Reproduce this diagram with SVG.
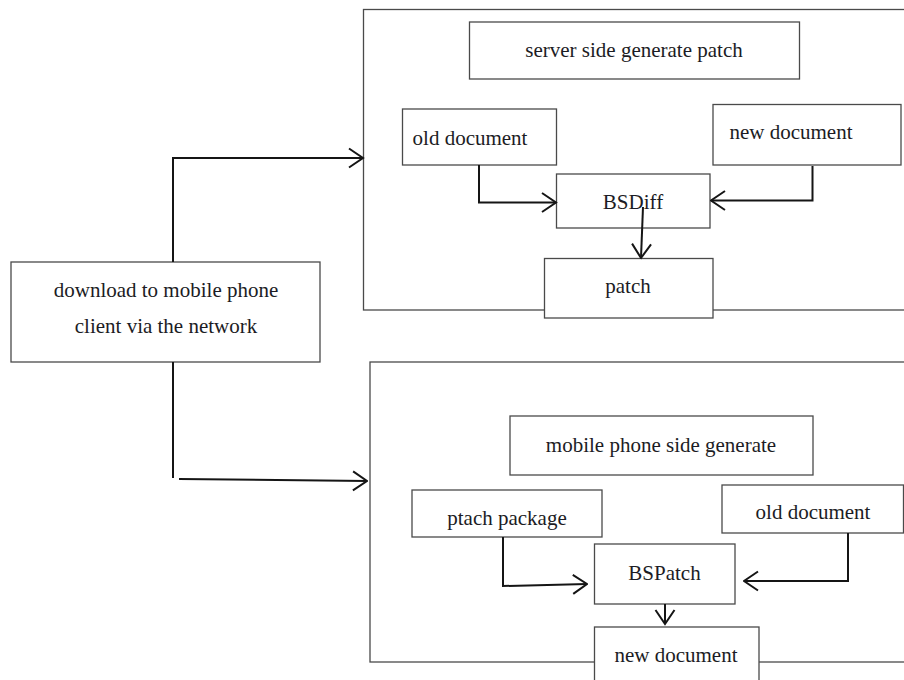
<svg xmlns="http://www.w3.org/2000/svg" width="904" height="680" viewBox="0 0 904 680">
  <style>
    .box { fill: #ffffff; stroke: #4a4a4a; stroke-width: 1.3; }
    .frame { fill: #ffffff; stroke: #4a4a4a; stroke-width: 1.3; }
    text { font-family: 'Liberation Serif', 'Times New Roman', 'DejaVu Serif', serif; font-size: 21px; fill: #1c1c24; text-anchor: middle; }
    .wire { fill: none; stroke: #151515; stroke-width: 2; }
  </style>
  <defs>
    <marker id="chev" viewBox="0 0 17 22" refX="15.5" refY="11" markerWidth="17" markerHeight="22" markerUnits="userSpaceOnUse" orient="auto">
      <path d="M1.5,1.5 L15.5,11 L1.5,20.5" fill="none" stroke="#151515" stroke-width="2"/>
    </marker>
  </defs>
  <rect width="904" height="680" fill="#ffffff"/>

  <!-- server side frame -->
  <g id="server-frame">
    <rect class="frame" x="363.5" y="9.5" width="560" height="300.5"/>
  </g>
  <!-- mobile side frame -->
  <g id="mobile-frame">
    <rect class="frame" x="370" y="362" width="560" height="300"/>
  </g>

  <g font-family="Liberation Serif, Times New Roman, serif">
    <g id="download">
      <rect class="box" x="11" y="262" width="309" height="100"/>
      <text x="166" y="297">download to mobile phone</text>
      <text x="166" y="333">client via the network</text>
    </g>

    <g id="server-title">
      <rect class="box" x="469.5" y="22" width="330" height="57"/>
      <text x="634" y="57">server side generate patch</text>
    </g>
    <g id="server-old">
      <rect class="box" x="402.5" y="109" width="154" height="56"/>
      <text x="470" y="145">old document</text>
    </g>
    <g id="server-new">
      <rect class="box" x="713" y="104.5" width="188" height="60.5"/>
      <text x="791" y="139">new document</text>
    </g>
    <g id="bsdiff">
      <rect class="box" x="556.5" y="174" width="153.5" height="54"/>
      <text x="633" y="209">BSDiff</text>
    </g>
    <g id="patch">
      <rect class="box" x="544.5" y="258.5" width="168.5" height="59.5"/>
      <text x="628" y="293">patch</text>
    </g>

    <g id="mobile-title">
      <rect class="box" x="510" y="416" width="303" height="59"/>
      <text x="661" y="452">mobile phone side generate</text>
    </g>
    <g id="ptach-package">
      <rect class="box" x="412" y="490" width="190" height="47"/>
      <text x="507" y="525">ptach package</text>
    </g>
    <g id="mobile-old">
      <rect class="box" x="722" y="485" width="181.5" height="48"/>
      <text x="813" y="519">old document</text>
    </g>
    <g id="bspatch">
      <rect class="box" x="594.5" y="544" width="140.5" height="60"/>
      <text x="664.5" y="580">BSPatch</text>
    </g>
    <g id="mobile-new">
      <rect class="box" x="594.5" y="627" width="164.5" height="60"/>
      <text x="676" y="662">new document</text>
    </g>
  </g>

  <g id="connectors">
    <!-- download to both sides -->
    <path class="wire" d="M173,262 V158 H363" marker-end="url(#chev)"/>
    <path class="wire" d="M173,362 V478"/>
    <path class="wire" d="M179,479 L367,481" marker-end="url(#chev)"/>
    <!-- server side -->
    <path class="wire" d="M479,165 V202.5 H556" marker-end="url(#chev)"/>
    <path class="wire" d="M812.5,166 V200.5 H711" marker-end="url(#chev)"/>
    <path class="wire" d="M643,207 L641,258" marker-end="url(#chev)"/>
    <!-- mobile side -->
    <path class="wire" d="M503,537 V586 L587,584" marker-end="url(#chev)"/>
    <path class="wire" d="M848,533 V581 H744" marker-end="url(#chev)"/>
    <path class="wire" d="M665,604 V624" marker-end="url(#chev)"/>
  </g>
</svg>
